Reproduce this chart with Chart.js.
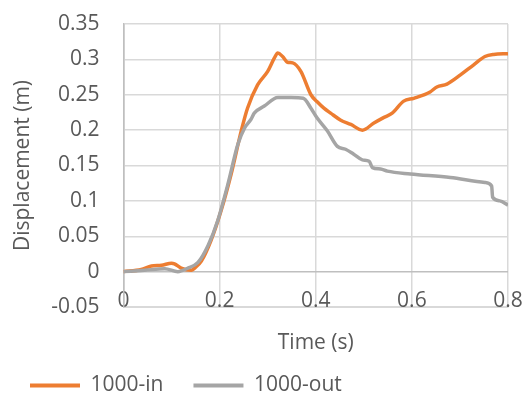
<!DOCTYPE html>
<html>
<head>
<meta charset="utf-8">
<script src="https://cdn.jsdelivr.net/npm/chart.js@4/dist/chart.umd.min.js"></script>
<style>
  html, body { margin: 0; padding: 0; background: #fff; }
</style>
</head>
<body>
<canvas id="chartDisp" width="525" height="396"></canvas>
<script>
// 1000-in
const timeIn = [0, 0.037, 0.058, 0.079, 0.1, 0.106, 0.12, 0.141, 0.148, 0.162, 0.182, 0.203, 0.224, 0.245, 0.258, 0.279, 0.3, 0.314, 0.321, 0.331, 0.341, 0.352, 0.369, 0.39, 0.403, 0.417, 0.431, 0.452, 0.473, 0.497, 0.521, 0.542, 0.559, 0.583, 0.604, 0.638, 0.652, 0.673, 0.701, 0.728, 0.752, 0.77, 0.8];
const dispIn = [0, 0.003, 0.008, 0.009, 0.012, 0.011, 0.005, 0.002, 0.005, 0.015, 0.044, 0.086, 0.138, 0.199, 0.231, 0.264, 0.283, 0.302, 0.309, 0.304, 0.296, 0.295, 0.283, 0.25, 0.24, 0.231, 0.224, 0.214, 0.208, 0.2, 0.21, 0.218, 0.224, 0.241, 0.245, 0.254, 0.261, 0.265, 0.278, 0.292, 0.304, 0.307, 0.308];

// 1000-out
const timeOut = [0, 0.044, 0.086, 0.113, 0.134, 0.155, 0.176, 0.196, 0.217, 0.238, 0.252, 0.265, 0.272, 0.293, 0.321, 0.349, 0.374, 0.39, 0.403, 0.424, 0.445, 0.462, 0.479, 0.497, 0.511, 0.518, 0.535, 0.549, 0.597, 0.68, 0.752, 0.766, 0.768, 0.783, 0.8];
const dispOut = [0, 0.002, 0.004, 0, 0.005, 0.013, 0.037, 0.072, 0.123, 0.18, 0.203, 0.215, 0.224, 0.234, 0.246, 0.246, 0.245, 0.231, 0.217, 0.199, 0.177, 0.173, 0.166, 0.158, 0.156, 0.147, 0.145, 0.142, 0.138, 0.133, 0.126, 0.121, 0.105, 0.1, 0.094];

const xRange = [0, 0.8];
const xStep = 0.2;
const yRange = [-0.05, 0.35];
const yStep = 0.05;

const textColor = "#595959";
const gridColor = "#D9D9D9";
const axisColor = "#BFBFBF";
const font = { family: "'Open Sans', sans-serif", size: 21 };

const toPoints = (xs, ys) => xs.map((x, i) => ({ x: x, y: ys[i] }));

const dataDisp = {
  datasets: [
    {
      label: "1000-in",
      data: toPoints(timeIn, dispIn),
      borderColor: "#ED7D31",
      backgroundColor: "#ED7D31",
      order: 1,
    },
    {
      label: "1000-out",
      data: toPoints(timeOut, dispOut),
      borderColor: "#A5A5A5",
      backgroundColor: "#A5A5A5",
      order: 0,
    },
  ],
};

// legend swatch: a flat 4px bar with no outline
const legendLabels = (chart) =>
  Chart.defaults.plugins.legend.labels
    .generateLabels(chart)
    .map((item) => Object.assign(item, { lineWidth: 0 }));

const configDisp = {
  type: "line",
  data: dataDisp,
  options: {
    responsive: false,
    animation: false,
    layout: { padding: { left: 0, right: 17, top: 24, bottom: 0 } },
    elements: {
      point: { radius: 0 },
      line: { borderWidth: 3.5, cubicInterpolationMode: "monotone" },
    },
    scales: {
      x: {
        type: "linear",
        min: xRange[0],
        max: xRange[1],
        border: { color: gridColor, width: 1 },
        grid: {
          drawTicks: false,
          color: (ctx) => (ctx.tick && ctx.tick.value === 0 ? axisColor : gridColor),
          lineWidth: 1.5,
        },
        ticks: {
          stepSize: xStep,
          mirror: true,
          padding: -7,
          color: textColor,
          font: font,
          maxRotation: 0,
          callback: (v) => String(+v.toFixed(2)),
        },
        title: {
          display: true,
          text: "Time (s)",
          color: textColor,
          font: font,
          padding: { top: 37.4, bottom: -10.6 },
        },
      },
      y: {
        min: yRange[0],
        max: yRange[1],
        border: { color: axisColor, width: 1.5 },
        grid: {
          tickLength: 13,
          tickColor: "rgba(0,0,0,0)",
          color: (ctx) => (ctx.tick && Math.abs(ctx.tick.value) < 1e-9 ? axisColor : gridColor),
          lineWidth: 1.5,
        },
        ticks: {
          stepSize: yStep,
          padding: 11,
          color: textColor,
          font: font,
          callback: (v) => String(+v.toFixed(2)),
        },
        title: {
          display: true,
          text: "Displacement (m)",
          color: textColor,
          font: font,
          padding: { top: 10, bottom: 5 },
        },
      },
    },
    plugins: {
      tooltip: { enabled: false },
      legend: {
        position: "bottom",
        align: "start",
        maxHeight: 51,
        labels: {
          boxWidth: 50,
          boxHeight: 4,
          padding: 30,
          color: textColor,
          font: font,
          generateLabels: legendLabels,
          sort: (a, b) => a.datasetIndex - b.datasetIndex,
        },
      },
    },
  },
};

let chartDisp = new Chart(document.getElementById("chartDisp"), configDisp);
</script>
</body>
</html>
